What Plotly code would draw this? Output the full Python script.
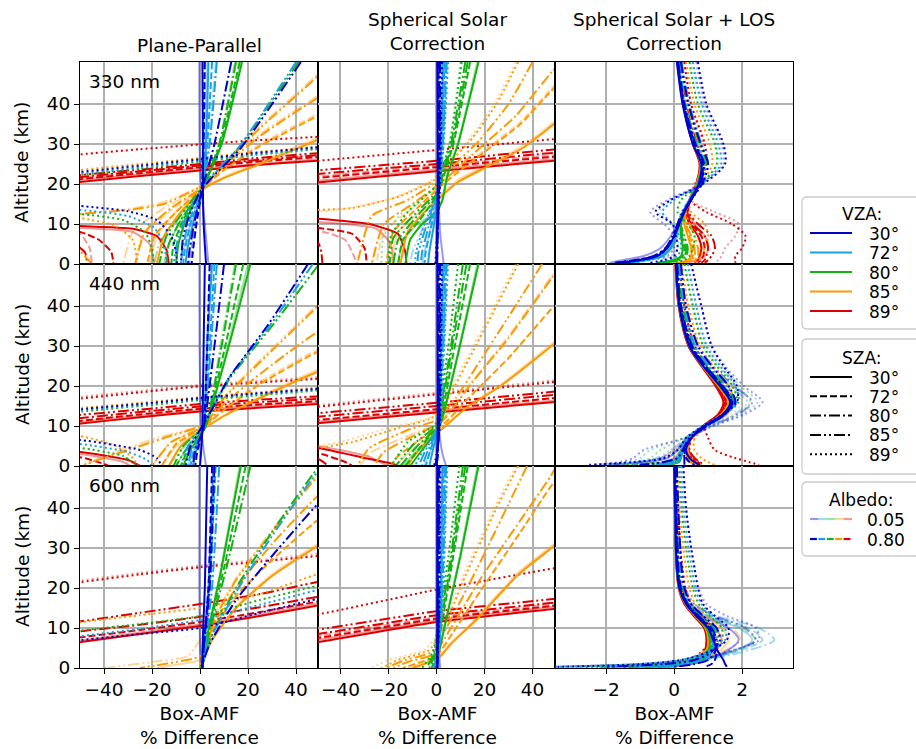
import plotly.graph_objects as go
from plotly.subplots import make_subplots

# ---------------- categories / styles ----------------
VZA = [30, 72, 80, 85, 89]
SZA = [30, 72, 80, 85, 89]
ALBEDO_LABELS = ["0.05", "0.80"]
VZA_RGB = {30: (0, 0, 205), 72: (27, 161, 226), 80: (18, 179, 18), 85: (255, 153, 0), 89: (221, 0, 0)}
SZA_DASH = {30: "solid", 72: "7px,3px", 80: "11px,3px,2px,3px",
            85: "11px,3px,2px,3px,2px,3px", 89: "2px,3px"}
WAVELENGTHS = ["330 nm", "440 nm", "600 nm"]
COL_TITLES = ["Plane-Parallel", "Spherical Solar<br>Correction", "Spherical Solar + LOS<br>Correction"]
X_RANGES = [[-50, 49], [-49.5, 49.5], [-3.5, 3.5]]
X_TICKS = [[-40, -20, 0, 20, 40], [-40, -20, 0, 20, 40], [-2, 0, 2]]
Y_TICKS = [0, 10, 20, 30, 40]
Y_RANGE = [0, 50.5]

# ---------------- data: plane-parallel & spherical-solar panels ----------------
# (VZA, SZA): flat list of [x, altitude, x, altitude, ...]   (albedo 0.80 / 0.05)
PP_330 = {
    (30, 30): [1, 50.5, 1.2, 30, 1.2, 19, 1.5, 10, 2.5, 0],
    (30, 72): [2, 50.5, 1.5, 30, 0.8, 19, -1.5, 10, -3, 3, -3.5, 0],
    (30, 80): [13, 50.5, 6, 30, 1, 19, -2.5, 10, -4.5, 3, -5, 0],
    (30, 85): [42, 50.5, 17, 29, 4, 21, 0, 18, -4, 13, -7, 7, -8, 0],
    (30, 89): [80, 31, 49, 29.2, 20, 27.6, 0, 26.2, -25, 24.6, -50, 23, -80, 21, -80, 15, -50, 14.5, -30, 13.2, -18, 11, -12, 7, -10, 3, -9.5, 0],
    (72, 30): [3.5, 50.5, 2.5, 30, 1, 19, -3, 10, -5.5, 3, -6, 0],
    (72, 72): [5, 50.5, 3, 30, 1, 19, -4, 10, -6.5, 3, -7, 0],
    (72, 80): [7, 50.5, 4, 30, 1, 19, -5, 10, -7.5, 3, -8, 0],
    (72, 85): [40, 50.5, 16, 29, 3.5, 21, 0, 18, -5, 13, -9, 7, -11, 0],
    (72, 89): [80, 30.6, 49, 28.9, 20, 27.3, 0, 25.9, -25, 24.2, -50, 22.6, -80, 20.5, -80, 14, -50, 13.5, -30, 12, -19, 9, -15, 5, -14, 0],
    (80, 30): [17.5, 50.5, 9, 30, 1, 19, -6, 11, -9, 5, -10, 0],
    (80, 72): [16.5, 50.5, 8.5, 30, 1, 19, -7, 11, -11, 5, -12, 0],
    (80, 80): [15, 50.5, 8, 30, 1, 19, -8, 11, -13, 5, -14, 0],
    (80, 85): [41, 50.5, 16, 29, 3, 21, 0, 18.5, -7, 13, -14, 7, -17, 0],
    (80, 89): [80, 30.4, 49, 28.7, 20, 27.1, 0, 25.6, -25, 23.9, -50, 22.2, -80, 20, -80, 13, -50, 12.5, -32, 11, -23, 8, -20, 4, -19.5, 0],
    (85, 30): [70, 36, 49, 31, 25, 25, 10, 21.5, 2, 19, -8, 13, -15, 7, -18, 0],
    (85, 72): [70, 43, 49, 37, 25, 29.5, 10, 23.5, 2, 19.5, -10, 13, -19, 7, -22, 0],
    (85, 80): [70, 48, 49, 41.5, 25, 32, 10, 24.5, 2, 19.5, -12, 14, -23, 8, -27, 0],
    (85, 85): [60, 55, 49, 47, 25, 34, 10, 25, 2, 20, -15, 15, -30, 13.5, -50, 12.5, -70, 11, -70, 5, -50, 3, -45, 0],
    (85, 89): [80, 31, 49, 29.3, 20, 27.8, 0, 26.5, -25, 25, -50, 23.5, -80, 21.5, -80, 12, -50, 11.5, -35, 9.5, -28, 6, -26, 0],
    (89, 30): [80, 27, 49, 25.8, 20, 24.6, 0, 23.4, -25, 22, -50, 20.5, -80, 18.5, -80, 10, -50, 9.5, -28, 8.8, -18, 7, -14, 3.5, -13, 0],
    (89, 72): [80, 28, 49, 26.7, 20, 25.4, 0, 24.2, -25, 22.7, -50, 21.2, -80, 19, -80, 8.5, -50, 8, -42, 6, -37, 3, -36, 0],
    (89, 80): [80, 28.4, 49, 27.2, 20, 25.8, 0, 24.6, -25, 23.2, -50, 21.7, -80, 19.5, -80, 6.5, -55, 6, -48, 3, -47, 0],
    (89, 85): [80, 29, 49, 27.7, 20, 26.3, 0, 25, -25, 23.6, -50, 22.2, -80, 20],
    (89, 89): [80, 33, 49, 31.8, 20, 30.8, 0, 29.9, -25, 28.7, -50, 27.4, -80, 25.5],
}
PP_330_LO = {
    (30, 30): [-0.3, 50.5, -0.2, 30, 0.5, 19, 2, 10, 3.5, 0],
    (30, 72): [1.5, 50.5, 1.2, 30, 0.8, 19, -2, 10, -4.5, 0],
    (72, 30): [3, 50.5, 2, 30, 1, 19, -4, 10, -7, 3, -8, 0],
    (72, 80): [6.5, 50.5, 3.5, 30, 1, 19, -6.5, 10, -10, 3, -11, 0],
    (80, 30): [17, 50.5, 9, 30, 1, 19, -8, 11, -13, 5, -15, 0],
    (80, 80): [14.5, 50.5, 8, 30, 1, 19, -10, 11, -17, 5, -19, 0],
    (85, 30): [70, 36.5, 49, 31.5, 25, 25.5, 10, 21.8, 2, 19, -10, 13, -18, 7, -21, 0],
    (85, 72): [70, 43.5, 49, 37.5, 25, 30, 10, 23.8, 2, 19.5, -13, 13, -24, 7, -27, 0],
    (85, 80): [70, 48.5, 49, 42, 25, 32.5, 10, 24.8, 2, 19.5, -15, 14, -28, 8, -32, 0],
    (85, 85): [60, 55.5, 49, 47.5, 25, 34.5, 10, 25.3, 2, 20, -15, 15.5, -32, 13.5, -50, 12.5, -60, 10, -50, 4, -46, 0],
    (89, 30): [80, 27.4, 49, 26.2, 0, 23.8, -50, 21, -80, 19, -80, 9.5, -50, 9, -28, 8, -21, 5, -19, 0],
    (89, 72): [80, 28.4, 49, 27.1, 0, 24.6, -50, 21.6, -80, 19.5, -80, 8, -50, 7.5, -46, 4, -45, 0],
}

SS_330 = {
    (30, 30): [0.3, 50.5, 0.5, 20, 0.3, 10, 0, 0],
    (30, 72): [0.8, 50.5, 0.8, 20, 0.5, 10, 0.2, 0],
    (30, 80): [1.2, 50.5, 1, 20, 0.6, 10, 0.3, 0],
    (30, 85): [1.6, 50.5, 1.2, 20, 0.5, 10, 0, 0],
    (30, 89): [2.3, 50.5, 1.5, 20, 0.5, 10, -0.5, 0],
    (72, 30): [2.8, 50.5, 2, 30, 1, 19, -1, 10, -3, 3, -3.5, 0],
    (72, 72): [3.3, 50.5, 2.2, 30, 1, 19, -2, 10, -4.5, 3, -5, 0],
    (72, 80): [3.8, 50.5, 2.5, 30, 1, 19, -3, 10, -6, 3, -6.5, 0],
    (72, 85): [4.3, 50.5, 2.7, 30, 1, 19, -4, 10, -7.5, 3, -8, 0],
    (72, 89): [4.8, 50.5, 3, 30, 1, 19, -5, 10, -8.5, 3, -9, 0],
    (80, 30): [17.5, 50.5, 9, 30, 4.5, 22, 2.5, 16, 0, 13, -6, 10, -11, 6, -13, 0],
    (80, 72): [14, 50.5, 7, 30, 2, 20, 0, 17, -7, 11, -14, 6, -16, 0],
    (80, 80): [13, 50.5, 6.5, 30, 1.5, 20, 0, 17.5, -8, 12, -16, 6, -18, 0],
    (80, 85): [12, 50.5, 6, 30, 1, 20, 0, 18, -9, 12.5, -18, 6.5, -19.5, 0],
    (80, 89): [10.5, 50.5, 5.5, 30, 0.5, 20.5, -1, 19, -12, 13, -19, 7, -20, 0],
    (85, 30): [60, 40, 49, 35, 36, 29, 20, 24, 9, 20.5, 3, 17.5, -5, 13, -12, 8, -15, 0],
    (85, 72): [60, 49, 49, 44, 35, 35, 20, 28, 8, 22.5, 1, 19, -8, 14, -18, 8, -21, 0],
    (85, 80): [52, 50.5, 48, 48, 33, 37, 18, 29, 7, 23, 0, 19.5, -10, 15, -22, 10, -27, 0],
    (85, 85): [40, 50.5, 30, 40, 18, 31, 7, 24.5, 0, 20.5, -12, 16, -27, 12, -33, 0],
    (85, 89): [34, 50.5, 25, 40, 15, 31.5, 5, 25, -1, 21, -15, 17, -35, 14, -50, 13.5, -70, 13],
    (89, 30): [80, 27, 49, 25.8, 0, 23.2, -49.5, 20.4, -80, 18.5, -80, 11.5, -49.5, 11.3, -28, 10, -16, 7.5, -13, 3, -12.5, 0],
    (89, 72): [80, 28, 49, 26.8, 0, 24.2, -49.5, 21.5, -80, 19.5, -80, 9.5, -49.5, 9, -35, 7.5, -30, 4, -29, 0],
    (89, 80): [80, 28.8, 49, 27.8, 0, 25, -49.5, 22.5, -80, 20.5, -80, 6, -49.5, 5.5, -48, 3, -47.5, 0],
    (89, 85): [80, 29.6, 49, 28.6, 0, 25.8, -49.5, 23.4, -80, 21.5],
    (89, 89): [80, 32.2, 49, 31.2, 0, 28.5, -49.5, 25.8, -80, 24],
}
SS_330_LO = {
    (30, 30): [0.8, 50.5, 0.8, 20, 1.5, 8, 3, 0],
    (72, 30): [2.5, 50.5, 1.8, 30, 1, 19, -2, 10, -5, 3, -6, 0],
    (72, 85): [4, 50.5, 2.5, 30, 1, 19, -5, 10, -10, 3, -11, 0],
    (80, 30): [17, 50.5, 8.8, 30, 4.3, 22, 2.3, 16, 0, 13, -8, 10, -14, 6, -16, 0],
    (80, 89): [10, 50.5, 5.3, 30, 0.5, 20.5, -1, 19, -14, 13, -22, 7, -23, 0],
    (85, 30): [60, 40.5, 49, 35.5, 36, 29.5, 20, 24.5, 9, 21, 3, 18, -7, 13, -16, 8, -19, 0],
    (85, 72): [60, 49.5, 49, 44.5, 35, 35.5, 20, 28.5, 8, 23, 1, 19.5, -10, 14, -22, 8, -25, 0],
    (85, 89): [33, 50.5, 24, 40, 14, 31.5, 4, 25, -2, 21, -18, 16.5, -38, 13.8, -50, 13, -70, 12],
    (89, 30): [80, 27.4, 49, 26.2, 0, 23.6, -49.5, 20.8, -80, 19, -80, 10.8, -49.5, 10.5, -25, 8.8, -19, 5, -18, 0],
    (89, 72): [80, 28.4, 49, 27.2, 0, 24.6, -49.5, 21.9, -80, 20, -80, 8.8, -49.5, 8.4, -38, 6, -33, 0],
}

PP_440 = {
    (30, 30): [2, 50.5, 1.5, 30, 1, 9.5, 0.5, 4, 0, 0],
    (30, 72): [4, 50.5, 3, 30, 1.5, 9.5, -1, 4, -2, 0],
    (30, 80): [10, 50.5, 6, 30, 1.5, 9.5, -2, 4, -3, 0],
    (30, 85): [45, 50.5, 28, 35, 12, 22, 3, 12, 0, 9, -4, 5, -6, 0],
    (30, 89): [80, 21, 49, 19.3, 20, 18, 0, 17, -25, 15.5, -49.5, 14.2, -80, 12, -80, 6.5, -50, 6.5, -25, 4, -18, 2, -16, 0],
    (72, 30): [5, 50.5, 3, 30, 1.5, 9.5, -1.5, 4, -3, 0],
    (72, 72): [6, 50.5, 4, 30, 1.5, 9.5, -2.5, 4, -4, 0],
    (72, 80): [7, 50.5, 4.5, 30, 1.5, 9.5, -3.5, 4, -5, 0],
    (72, 85): [47, 50.5, 29, 35, 12, 22, 3, 12, 0, 9, -5, 5, -8, 0],
    (72, 89): [80, 20.8, 49, 19.1, 20, 17.8, 0, 16.8, -25, 15.3, -49.5, 14, -80, 12, -80, 5.5, -50, 5.5, -30, 3.5, -22, 1.5, -20, 0],
    (80, 30): [21, 50.5, 12, 30, 2, 9.5, -4, 4, -7, 0],
    (80, 72): [18, 50.5, 10.5, 30, 2, 9.5, -5, 4, -8, 0],
    (80, 80): [15, 50.5, 9, 30, 2, 9.5, -6, 4, -10, 0],
    (80, 85): [49, 50, 30, 35, 12.5, 22, 3, 12, 0, 9, -7, 5, -11, 0],
    (80, 89): [80, 20.6, 49, 18.9, 20, 17.5, 0, 16.5, -25, 15, -49.5, 13.6, -80, 11.5, -80, 4.5, -50, 4.5, -32, 2.5, -26, 0],
    (85, 30): [70, 27, 49, 23.5, 25, 17, 10, 12.5, 2, 9.5, -8, 5, -13, 0],
    (85, 72): [70, 32, 49, 28.5, 25, 20.5, 10, 14, 2, 10, -10, 5.5, -16, 0],
    (85, 80): [70, 38, 49, 33.5, 25, 23, 10, 15.5, 2, 10, -12, 6, -20, 0],
    (85, 85): [60, 48, 49, 40, 25, 26, 10, 17, 2, 10.5, -15, 7, -30, 4, -45, 1, -49.5, 0],
    (85, 89): [80, 21.2, 49, 19.6, 20, 18.2, 0, 17.2, -25, 15.8, -49.5, 14.5, -80, 12.5, -80, 7.5, -50, 7.5, -35, 5, -28, 2, -26, 0],
    (89, 30): [80, 16.5, 49, 15.5, 20, 14.4, 0, 13.6, -25, 12.2, -49.5, 10.6, -80, 8.5, -80, 4, -50, 3.5, -30, 1.5, -25, 0],
    (89, 72): [80, 17.2, 49, 16.2, 20, 15.2, 0, 14.3, -25, 12.9, -49.5, 11.3, -80, 9, -80, 2.5, -50, 2.2, -40, 0.5, -38, 0],
    (89, 80): [80, 17.8, 49, 16.8, 20, 15.8, 0, 14.9, -25, 13.5, -49.5, 12, -80, 10],
    (89, 85): [80, 18.5, 49, 17.4, 20, 16.4, 0, 15.5, -25, 14.1, -49.5, 12.8, -80, 10.8],
    (89, 89): [80, 23, 49, 21.8, 20, 20.7, 0, 19.9, -25, 18.4, -49.5, 16.9, -80, 15],
}
PP_440_LO = {
    (30, 30): [-0.3, 50.5, -0.2, 30, 0.5, 9.5, 1.5, 4, 2.5, 0],
    (72, 30): [4.5, 50.5, 2.8, 30, 1.5, 9.5, -2.5, 4, -5, 0],
    (80, 30): [20, 50.5, 11.5, 30, 2, 9.5, -6, 4, -10, 0],
    (80, 80): [14.5, 50.5, 8.5, 30, 2, 9.5, -8, 4, -13, 0],
    (85, 30): [70, 27.5, 49, 24, 25, 17.3, 10, 12.7, 2, 9.5, -10, 5, -16, 0],
    (85, 72): [70, 32.5, 49, 29, 25, 21, 10, 14.3, 2, 10, -13, 5.5, -20, 0],
    (85, 85): [60, 48.5, 49, 40.5, 25, 26.5, 10, 17.2, 2, 10.5, -18, 7, -35, 3.5, -48, 0.5],
    (89, 30): [80, 16.9, 49, 15.9, 0, 14, -49.5, 11, -80, 9, -80, 3.5, -50, 3, -32, 1, -29, 0],
    (89, 89): [80, 23.4, 49, 22.2, 0, 20.3, -49.5, 17.3, -80, 15.5],
}

SS_440 = {
    (30, 30): [0.3, 50.5, 0.5, 10, 0.3, 3, 0, 0],
    (30, 72): [0.8, 50.5, 0.8, 10, 0.5, 3, 0.2, 0],
    (30, 80): [1.2, 50.5, 1, 10, 0.5, 3, 0, 0],
    (30, 85): [1.6, 50.5, 1.2, 10, 0.3, 3, -0.5, 0],
    (30, 89): [2.2, 50.5, 1.4, 10, 0, 3, -1, 0],
    (72, 30): [2.8, 50.5, 1.8, 25, 1, 10, -1.5, 4, -3, 0],
    (72, 72): [3.3, 50.5, 2, 25, 1, 10, -2.5, 4, -4.5, 0],
    (72, 80): [3.8, 50.5, 2.3, 25, 1, 10, -3.5, 4, -6, 0],
    (72, 85): [4.3, 50.5, 2.5, 25, 1, 10, -4.5, 4, -7.5, 0],
    (72, 89): [4.8, 50.5, 2.8, 25, 1, 10, -5.5, 4, -9, 0],
    (80, 30): [17.5, 50.5, 9, 28, 2.5, 12, 0.5, 9, -6, 4, -11, 0],
    (80, 72): [14, 50.5, 7, 28, 1.5, 11, 0, 9.5, -7, 4.5, -13, 0],
    (80, 80): [12.5, 50.5, 6, 28, 1, 11, 0, 9.5, -8, 5, -15, 0],
    (80, 85): [11, 50.5, 5.5, 28, 0.5, 11, -0.5, 9.8, -9.5, 5.5, -17, 0],
    (80, 89): [9, 50.5, 4.5, 28, 0, 11, -1, 10, -12, 6, -19, 0],
    (85, 30): [60, 36, 49, 30.5, 26, 19.7, 13, 14.8, 3.4, 9.8, -4, 6, -10, 2, -12, 0],
    (85, 72): [60, 46, 49, 40, 30, 27, 15, 18, 3, 10.5, -6, 7, -16, 2.5, -19, 0],
    (85, 80): [52, 50.5, 48, 47, 30, 32, 15, 21, 2, 11, -8, 8, -22, 3.5, -26, 0],
    (85, 85): [44, 50.5, 35, 42, 20, 28, 8, 17, 0, 11.5, -12, 9, -28, 4.5, -33, 0],
    (85, 89): [34, 50.5, 25, 40, 12, 25, 3, 15, -2, 12, -16, 9.5, -35, 6, -49.5, 4.5, -70, 3],
    (89, 30): [80, 17.5, 49.5, 16, 0, 13.4, -49.5, 10.7, -80, 9, -80, 4.8, -49.5, 4.5, -30, 2, -18, 0.5, -16, 0],
    (89, 72): [80, 18.5, 49.5, 17, 0, 14.2, -49.5, 11.5, -80, 10, -80, 3.5, -49.5, 3.2, -38, 1, -35, 0],
    (89, 80): [80, 19.3, 49.5, 17.8, 0, 15, -49.5, 12.3, -80, 10.5, -80, 2, -49.5, 1.8, -45, 0],
    (89, 85): [80, 20, 49.5, 18.6, 0, 15.8, -49.5, 13.2, -80, 11.5],
    (89, 89): [80, 22.5, 49.5, 21, 0, 17.9, -49.5, 14.8, -80, 13],
}
SS_440_LO = {
    (30, 30): [0.8, 50.5, 1, 10, 2.5, 3, 4, 0],
    (72, 30): [2.5, 50.5, 1.6, 25, 1, 10, -2.5, 4, -5, 0],
    (80, 30): [17, 50.5, 8.8, 28, 2.3, 12, 0.3, 9, -8, 4, -14, 0],
    (85, 30): [60, 36.5, 49, 31, 26, 20, 13, 15, 3.4, 10, -6, 6, -14, 2, -17, 0],
    (85, 80): [52, 51, 48, 47.5, 30, 32.5, 15, 21.3, 2, 11.2, -10, 8, -27, 3.5, -32, 0],
    (85, 89): [33, 50.5, 24, 40, 11, 25, 2, 15, -3, 12, -20, 9.5, -40, 6, -49.5, 5, -70, 3.5],
    (89, 30): [80, 17.9, 49.5, 16.4, 0, 13.8, -49.5, 11.1, -80, 9.5, -80, 5.3, -49.5, 5, -28, 2.3, -22, 0.5, -20, 0],
    (89, 89): [80, 22.9, 49.5, 21.4, 0, 18.3, -49.5, 15.2, -80, 13.5],
}

PP_600 = {
    (30, 30): [3, 50.5, 2, 20, 1, 5, 1, 0],
    (30, 72): [5, 50.5, 3.5, 20, 1.5, 5, 1, 0],
    (30, 80): [6, 50.5, 4, 20, 1.5, 5, 1, 0],
    (30, 85): [60, 47, 49, 41, 30, 28, 15, 17, 4, 6, 1, 1, 0, 0],
    (30, 89): [80, 22, 49, 17.3, 25, 13.8, 0, 10, -25, 8.5, -49.5, 7, -80, 5],
    (72, 30): [5.5, 50.5, 3.5, 20, 1.5, 5, 1, 0],
    (72, 72): [6.5, 50.5, 4, 20, 1.5, 5, 1, 0],
    (72, 80): [8, 50.5, 5, 20, 2, 5, 1, 0],
    (72, 85): [60, 55, 49, 49, 30, 33, 15, 19, 4, 7, 1, 1, 0, 0],
    (72, 89): [80, 24, 49, 19.5, 25, 15.8, 0, 12, -25, 9.8, -49.5, 8, -80, 6],
    (80, 30): [17, 50.5, 9, 25, 3, 8, 1, 1, 0.5, 0],
    (80, 72): [19, 50.5, 10, 25, 3, 8, 1, 1, 0.5, 0],
    (80, 80): [21, 50.5, 11, 25, 3.5, 8, 1, 1, 0.5, 0],
    (80, 85): [60, 57, 49, 50, 30, 34, 15, 20, 4, 7, 1, 1, 0, 0],
    (80, 89): [80, 25, 49, 20.6, 25, 17, 0, 13, -25, 11, -49.5, 9.4, -80, 7],
    (85, 30): [70, 38, 49, 30.5, 30, 23, 15, 15, 5, 7, 1, 1.5, 0, 0],
    (85, 72): [70, 46, 49, 37, 30, 27, 15, 18, 5, 9, 1, 2, 0, 0],
    (85, 80): [70, 52, 49, 43, 30, 31, 15, 20, 5, 10, 1, 2, 0, 0],
    (85, 85): [60, 55, 49, 48, 30, 34, 15, 22, 5, 11, 0, 3, -10, 1.5, -20, 0.5, -25, 0],
    (85, 89): [80, 29, 49, 23.5, 25, 18.5, 0, 15, -25, 13.2, -49.5, 11.5, -80, 9],
    (89, 30): [80, 18.5, 49, 15.6, 25, 13, 0, 10.5, -25, 8.5, -49.5, 6.5, -80, 4.5],
    (89, 72): [80, 19.5, 49, 16.6, 25, 14, 0, 11.5, -25, 9.5, -49.5, 7.7, -80, 5.5],
    (89, 80): [80, 20.5, 49, 17.8, 25, 15.2, 0, 12.8, -25, 10.8, -49.5, 9.2, -80, 7],
    (89, 85): [80, 24.5, 49, 21.5, 25, 18.5, 0, 16, -25, 13.8, -49.5, 11.7, -80, 9.5],
    (89, 89): [80, 29.5, 49, 28, 25, 26.6, 0, 25.2, -25, 23.4, -49.5, 21.5, -80, 19.5],
}
PP_600_LO = {
    (30, 30): [-0.3, 50.5, -0.3, 20, 0, 5, 0.5, 0],
    (72, 72): [6, 50.5, 3.8, 20, 1.5, 5, 1, 0],
    (80, 30): [16.5, 50.5, 8.8, 25, 3, 8, 1, 1, 0.5, 0],
    (85, 30): [70, 38.5, 49, 31, 30, 23.4, 15, 15.3, 5, 7.2, 0, 2, -10, 0.8, -18, 0],
    (85, 85): [60, 55.5, 49, 48.5, 30, 34.5, 15, 22.4, 4, 11, -5, 3, -20, 1.5, -33, 0.5, -40, 0],
    (89, 30): [80, 19, 49, 16.1, 25, 13.4, 0, 10.9, -25, 8.9, -49.5, 6.9, -80, 5],
    (89, 89): [80, 30, 49, 28.5, 25, 27, 0, 25.6, -25, 23.8, -49.5, 21.9, -80, 20],
}

SS_600 = {
    (30, 30): [0.3, 50.5, 0.3, 10, 0.3, 0],
    (30, 72): [0.6, 50.5, 0.5, 10, 0.3, 0],
    (30, 80): [0.9, 50.5, 0.7, 10, 0.3, 0],
    (30, 85): [1.2, 50.5, 0.9, 10, 0.2, 0],
    (30, 89): [1.6, 50.5, 1.1, 10, 0, 0],
    (72, 30): [2.5, 50.5, 1.8, 20, 1, 5, 0.5, 0],
    (72, 72): [3, 50.5, 2, 20, 1, 5, 0, 0],
    (72, 80): [3.5, 50.5, 2.2, 20, 1, 5, -0.5, 0],
    (72, 85): [4, 50.5, 2.5, 20, 1, 5, -1, 0],
    (72, 89): [4.5, 50.5, 2.8, 20, 1, 5, -1.5, 0],
    (80, 30): [17.5, 50.5, 10, 28, 4, 12, 1, 4, -1, 0],
    (80, 72): [13, 50.5, 7, 28, 2.5, 12, 0, 4, -2, 0],
    (80, 80): [12, 50.5, 6.5, 28, 2, 12, -0.5, 4, -3, 0],
    (80, 85): [11, 50.5, 6, 28, 1.5, 12, -1, 4, -4, 0],
    (80, 89): [9.5, 50.5, 5, 28, 1, 12, -1.5, 4, -6, 0],
    (85, 30): [60, 36, 49, 30.5, 34, 23.3, 16, 11.7, 6, 6, 1, 2.5, -5, 1, -10, 0],
    (85, 72): [60, 53, 49, 46.5, 35, 34, 18, 19, 7, 9, 0, 3, -8, 1.2, -14, 0],
    (85, 80): [50, 50.5, 47.6, 48, 35, 37, 18, 22, 6, 10, -1, 3.5, -12, 1.5, -18, 0],
    (85, 85): [37.7, 50.5, 30, 41, 17, 25, 5, 11, -2, 4, -14, 1.8, -21, 0],
    (85, 89): [34, 50.5, 25, 40, 12, 23, 3, 10, -3, 4.5, -16, 2, -23, 0],
    (89, 30): [80, 17, 49.5, 14.8, 0, 11.5, -49.5, 6.5, -80, 4.5],
    (89, 72): [80, 17.8, 49.5, 15.6, 0, 12.3, -49.5, 7.5, -80, 5.5],
    (89, 80): [80, 18.6, 49.5, 16.4, 0, 13.2, -49.5, 8.5, -80, 6.5],
    (89, 85): [80, 19.5, 49.5, 17.3, 0, 14.2, -49.5, 9.6, -80, 7.5],
    (89, 89): [80, 28, 49.5, 25, 0, 19.6, -49.5, 13.4, -80, 11],
}
SS_600_LO = {
    (30, 30): [0.5, 50.5, 0.6, 10, 1.5, 0],
    (72, 30): [2.3, 50.5, 1.7, 20, 1, 5, 0.8, 0],
    (80, 30): [17, 50.5, 9.7, 28, 3.8, 12, 1, 4, -1.5, 0],
    (85, 30): [60, 36.5, 49, 31, 34, 23.8, 16, 12.1, 6, 6.3, 1, 2.8, -6, 1.2, -12, 0],
    (85, 89): [33, 50.5, 24, 40, 11, 23, 2, 10, -5, 4.5, -20, 2, -27, 0],
    (89, 30): [80, 17.5, 49.5, 15.3, 0, 11.9, -49.5, 7, -80, 5],
    (89, 72): [80, 18.3, 49.5, 16.1, 0, 12.7, -49.5, 8, -80, 6],
}

# ---------------- data: spherical solar + LOS panels ----------------
# altitude levels (km) at which the LOS-panel values were read
Z_LOS = [50.5, 40, 30, 25, 20, 16, 13, 10, 7, 4, 2, 1, 0.3]
LOS_330 = {
    (30, 30): [0.08, 0.25, 0.55, 0.8, 0.72, 0.47, 0.28, 0.15, 0.0, -0.2, -0.5, -1.0, -1.6],
    (30, 72): [0.1, 0.28, 0.6, 0.85, 0.75, 0.5, 0.3, 0.15, 0.0, -0.22, -0.55, -1.1, -1.7],
    (30, 80): [0.12, 0.3, 0.63, 0.88, 0.77, 0.5, 0.3, 0.14, -0.02, -0.25, -0.6, -1.15, -1.75],
    (30, 85): [0.2, 0.42, 0.78, 1.0, 0.82, 0.5, 0.25, 0.1, -0.05, -0.25, -0.55, -1.0, -1.5],
    (30, 89): [0.7, 0.95, 1.45, 1.5, 0.85, -0.1, -0.55, -0.05, 0.05, 0.1, 0.0, -0.3, -0.7],
    (72, 30): [0.1, 0.27, 0.57, 0.82, 0.7, 0.45, 0.27, 0.15, 0.05, -0.1, -0.35, -0.8, -1.3],
    (72, 72): [0.12, 0.3, 0.62, 0.86, 0.72, 0.46, 0.27, 0.15, 0.05, -0.1, -0.4, -0.9, -1.4],
    (72, 80): [0.15, 0.33, 0.66, 0.9, 0.74, 0.46, 0.26, 0.13, 0.03, -0.12, -0.4, -0.9, -1.4],
    (72, 85): [0.22, 0.45, 0.8, 1.0, 0.78, 0.45, 0.22, 0.1, 0.03, -0.1, -0.35, -0.8, -1.2],
    (72, 89): [0.55, 0.82, 1.3, 1.38, 0.8, 0.0, -0.35, -0.05, 0.15, 0.2, 0.1, -0.2, -0.5],
    (80, 30): [0.1, 0.27, 0.57, 0.8, 0.68, 0.45, 0.3, 0.2, 0.2, 0.25, 0.2, 0.0, -0.5],
    (80, 72): [0.12, 0.3, 0.6, 0.83, 0.7, 0.46, 0.3, 0.2, 0.22, 0.3, 0.25, 0.05, -0.5],
    (80, 80): [0.14, 0.32, 0.64, 0.86, 0.72, 0.46, 0.3, 0.2, 0.25, 0.35, 0.3, 0.1, -0.4],
    (80, 85): [0.2, 0.42, 0.75, 0.95, 0.75, 0.45, 0.28, 0.2, 0.3, 0.4, 0.35, 0.15, -0.3],
    (80, 89): [0.45, 0.7, 1.2, 1.25, 0.8, 0.2, 0.1, 0.4, 0.6, 0.55, 0.45, 0.3, 0.0],
    (85, 30): [0.1, 0.27, 0.56, 0.78, 0.66, 0.45, 0.32, 0.3, 0.4, 0.5, 0.5, 0.4, 0.1],
    (85, 72): [0.12, 0.3, 0.6, 0.82, 0.68, 0.46, 0.32, 0.32, 0.45, 0.55, 0.55, 0.45, 0.1],
    (85, 80): [0.14, 0.32, 0.63, 0.85, 0.7, 0.46, 0.33, 0.35, 0.5, 0.6, 0.6, 0.5, 0.2],
    (85, 85): [0.2, 0.4, 0.72, 0.92, 0.72, 0.45, 0.35, 0.45, 0.6, 0.7, 0.7, 0.6, 0.3],
    (85, 89): [0.35, 0.6, 1.05, 1.12, 0.8, 0.45, 0.5, 0.9, 1.0, 0.9, 0.8, 0.7, 0.5],
    (89, 30): [0.1, 0.26, 0.55, 0.75, 0.65, 0.45, 0.35, 0.45, 0.7, 0.8, 0.75, 0.7, 0.6],
    (89, 72): [0.12, 0.28, 0.58, 0.78, 0.66, 0.46, 0.36, 0.5, 0.8, 0.9, 0.85, 0.8, 0.7],
    (89, 80): [0.13, 0.3, 0.6, 0.8, 0.67, 0.47, 0.38, 0.55, 0.9, 1.0, 0.95, 0.9, 0.8],
    (89, 85): [0.18, 0.37, 0.68, 0.86, 0.7, 0.48, 0.42, 0.7, 1.1, 1.2, 1.1, 1.0, 0.9],
    (89, 89): [0.3, 0.5, 0.9, 0.95, 0.65, 0.48, 0.95, 1.7, 2.1, 2.0, 1.8, 1.8, 1.8],
}
LOS_330_LO = {
    (30, 30): [0.08, 0.25, 0.55, 0.78, 0.7, 0.45, 0.25, 0.1, -0.1, -0.4, -0.9, -1.5, -1.9],
    (30, 89): [0.65, 0.9, 1.4, 1.45, 0.8, -0.2, -0.7, -0.3, 0.0, 0.0, -0.2, -0.8, -1.5],
    (72, 89): [0.5, 0.8, 1.25, 1.3, 0.75, -0.1, -0.45, -0.1, 0.1, 0.1, -0.1, -0.6, -1.2],
    (80, 30): [0.1, 0.27, 0.56, 0.78, 0.67, 0.45, 0.3, 0.2, 0.1, -0.05, -0.3, -0.9, -1.6],
    (85, 85): [0.2, 0.4, 0.72, 0.92, 0.72, 0.45, 0.4, 0.6, 0.8, 0.85, 0.8, 0.6, 0.2],
    (89, 30): [0.1, 0.26, 0.55, 0.75, 0.65, 0.45, 0.4, 0.6, 0.9, 1.0, 0.9, 0.7, 0.3],
    (89, 89): [0.3, 0.5, 0.85, 0.9, 0.6, 0.5, 1.2, 1.9, 1.8, 1.5, 1.4, 1.3, 1.2],
}
LOS_440 = {
    (30, 30): [0.05, 0.15, 0.45, 0.85, 1.35, 1.65, 1.45, 0.9, 0.5, 0.35, 0.45, 0.6, 0.75],
    (30, 72): [0.07, 0.18, 0.5, 0.9, 1.4, 1.7, 1.5, 0.95, 0.5, 0.3, 0.35, 0.45, 0.6],
    (30, 80): [0.09, 0.2, 0.53, 0.93, 1.43, 1.72, 1.5, 0.95, 0.5, 0.3, 0.3, 0.3, 0.3],
    (30, 85): [0.2, 0.35, 0.7, 1.1, 1.6, 1.8, 1.5, 0.9, 0.45, 0.25, 0.1, -0.3, -1.0],
    (30, 89): [0.5, 0.8, 1.1, 1.45, 1.85, 1.85, 1.45, 0.85, 0.35, 0.1, -0.3, -1.2, -2.5],
    (72, 30): [0.05, 0.15, 0.45, 0.85, 1.35, 1.68, 1.47, 0.9, 0.45, 0.25, 0.2, 0.1, -0.3],
    (72, 72): [0.07, 0.18, 0.5, 0.9, 1.4, 1.72, 1.5, 0.92, 0.45, 0.25, 0.15, 0.0, -0.5],
    (72, 80): [0.09, 0.2, 0.53, 0.93, 1.45, 1.75, 1.5, 0.92, 0.45, 0.22, 0.1, -0.1, -0.8],
    (72, 85): [0.15, 0.3, 0.62, 1.02, 1.55, 1.8, 1.5, 0.88, 0.4, 0.2, 0.05, -0.3, -1.2],
    (72, 89): [0.4, 0.65, 0.95, 1.35, 1.8, 1.9, 1.5, 0.85, 0.35, 0.1, -0.2, -1.0, -2.2],
    (80, 30): [0.05, 0.15, 0.45, 0.85, 1.33, 1.65, 1.45, 0.9, 0.45, 0.25, 0.2, 0.15, -0.2],
    (80, 72): [0.07, 0.17, 0.48, 0.88, 1.38, 1.7, 1.48, 0.9, 0.45, 0.25, 0.15, 0.05, -0.4],
    (80, 80): [0.08, 0.19, 0.5, 0.9, 1.4, 1.72, 1.48, 0.9, 0.45, 0.25, 0.15, 0.0, -0.6],
    (80, 85): [0.12, 0.25, 0.56, 0.96, 1.48, 1.76, 1.48, 0.88, 0.42, 0.22, 0.1, -0.2, -1.0],
    (80, 89): [0.3, 0.55, 0.85, 1.25, 1.72, 1.85, 1.45, 0.85, 0.4, 0.2, 0.1, -0.3, -1.5],
    (85, 30): [0.05, 0.15, 0.45, 0.83, 1.3, 1.6, 1.4, 0.9, 0.5, 0.35, 0.4, 0.5, 0.6],
    (85, 72): [0.06, 0.16, 0.47, 0.86, 1.33, 1.63, 1.42, 0.9, 0.5, 0.35, 0.4, 0.5, 0.6],
    (85, 80): [0.07, 0.18, 0.48, 0.88, 1.36, 1.66, 1.43, 0.9, 0.5, 0.35, 0.45, 0.55, 0.7],
    (85, 85): [0.1, 0.22, 0.52, 0.92, 1.42, 1.7, 1.44, 0.9, 0.5, 0.4, 0.5, 0.65, 0.8],
    (85, 89): [0.22, 0.42, 0.75, 1.12, 1.6, 1.75, 1.42, 0.9, 0.6, 0.6, 0.8, 1.0, 1.2],
    (89, 30): [0.04, 0.13, 0.42, 0.8, 1.22, 1.45, 1.3, 0.85, 0.5, 0.4, 0.5, 0.6, 0.7],
    (89, 72): [0.05, 0.14, 0.43, 0.81, 1.24, 1.47, 1.32, 0.86, 0.5, 0.4, 0.5, 0.65, 0.75],
    (89, 80): [0.06, 0.15, 0.44, 0.82, 1.26, 1.49, 1.33, 0.87, 0.5, 0.42, 0.55, 0.7, 0.8],
    (89, 85): [0.08, 0.18, 0.47, 0.85, 1.3, 1.52, 1.35, 0.88, 0.52, 0.45, 0.6, 0.75, 0.9],
    (89, 89): [0.15, 0.3, 0.6, 0.98, 1.4, 1.55, 1.35, 0.9, 1.0, 1.2, 1.8, 2.2, 2.5],
}
LOS_440_LO = {
    (30, 30): [0.05, 0.15, 0.45, 0.85, 1.4, 1.75, 1.55, 0.95, 0.4, 0.1, -0.2, -0.8, -1.8],
    (30, 85): [0.2, 0.35, 0.72, 1.15, 1.75, 2.3, 1.9, 1.1, 0.45, 0.0, -0.4, -1.0, -2.0],
    (30, 89): [0.5, 0.8, 1.12, 1.5, 2.05, 2.6, 2.1, 1.15, 0.3, -0.9, -1.2, -1.6, -2.4],
    (72, 85): [0.15, 0.3, 0.64, 1.05, 1.65, 2.15, 1.8, 1.0, 0.4, -0.1, -0.5, -1.0, -1.8],
    (72, 89): [0.4, 0.65, 0.98, 1.4, 1.95, 2.45, 2.0, 1.1, 0.3, -0.7, -1.0, -1.4, -2.2],
    (80, 89): [0.3, 0.55, 0.88, 1.3, 1.85, 2.25, 1.85, 1.0, 0.3, -0.4, -0.7, -1.1, -1.9],
    (85, 89): [0.22, 0.42, 0.77, 1.15, 1.7, 2.0, 1.7, 1.0, 0.4, -0.1, -0.3, -0.6, -1.2],
    (89, 30): [0.04, 0.13, 0.43, 0.82, 1.28, 1.55, 1.38, 0.88, 0.45, 0.2, 0.0, -0.3, -0.6],
    (89, 89): [0.15, 0.3, 0.6, 1.0, 1.45, 1.6, 1.4, 0.95, 0.6, 0.0, -0.3, -0.6, -1.0],
}
LOS_600 = {
    (30, 30): [0.0, 0.03, 0.05, 0.08, 0.15, 0.35, 0.65, 1.0, 1.15, 1.3, 1.45, 1.5, 1.55],
    (30, 72): [0.02, 0.05, 0.08, 0.1, 0.18, 0.38, 0.7, 1.05, 1.2, 1.25, 1.2, 1.1, 0.9],
    (30, 80): [0.03, 0.06, 0.1, 0.12, 0.2, 0.4, 0.72, 1.1, 1.25, 1.2, 1.0, 0.6, 0.0],
    (30, 85): [0.08, 0.12, 0.18, 0.22, 0.3, 0.5, 0.85, 1.25, 1.35, 1.1, 0.6, -0.3, -2.0],
    (30, 89): [0.27, 0.35, 0.5, 0.6, 0.7, 0.85, 1.2, 1.6, 1.55, 1.0, 0.2, -1.0, -3.5],
    (72, 30): [0.0, 0.03, 0.05, 0.08, 0.15, 0.35, 0.65, 1.0, 1.12, 1.1, 0.9, 0.5, -0.3],
    (72, 72): [0.02, 0.05, 0.08, 0.1, 0.18, 0.38, 0.7, 1.05, 1.15, 1.1, 0.8, 0.3, -0.8],
    (72, 80): [0.03, 0.06, 0.1, 0.13, 0.21, 0.42, 0.75, 1.1, 1.2, 1.05, 0.7, 0.1, -1.2],
    (72, 85): [0.07, 0.1, 0.15, 0.2, 0.28, 0.5, 0.85, 1.2, 1.3, 1.0, 0.5, -0.4, -2.2],
    (72, 89): [0.2, 0.28, 0.42, 0.52, 0.62, 0.8, 1.15, 1.5, 1.5, 1.0, 0.2, -1.0, -3.5],
    (80, 30): [0.0, 0.03, 0.05, 0.08, 0.15, 0.35, 0.65, 0.95, 1.05, 1.0, 0.8, 0.4, -0.5],
    (80, 72): [0.02, 0.05, 0.08, 0.1, 0.17, 0.37, 0.68, 1.0, 1.1, 1.0, 0.75, 0.3, -0.9],
    (80, 80): [0.03, 0.06, 0.09, 0.12, 0.2, 0.4, 0.72, 1.05, 1.15, 1.0, 0.65, 0.1, -1.3],
    (80, 85): [0.05, 0.08, 0.13, 0.17, 0.25, 0.45, 0.8, 1.15, 1.22, 0.95, 0.5, -0.3, -2.2],
    (80, 89): [0.15, 0.22, 0.35, 0.44, 0.55, 0.72, 1.05, 1.4, 1.4, 0.95, 0.3, -0.8, -3.4],
    (85, 30): [0.0, 0.03, 0.05, 0.08, 0.14, 0.33, 0.62, 0.92, 1.0, 0.95, 0.8, 0.5, -0.3],
    (85, 72): [0.01, 0.04, 0.07, 0.09, 0.16, 0.35, 0.65, 0.95, 1.02, 0.95, 0.75, 0.4, -0.6],
    (85, 80): [0.02, 0.05, 0.08, 0.11, 0.18, 0.38, 0.68, 0.98, 1.05, 0.95, 0.7, 0.3, -1.0],
    (85, 85): [0.04, 0.07, 0.11, 0.15, 0.22, 0.42, 0.74, 1.05, 1.1, 0.9, 0.55, 0.0, -1.8],
    (85, 89): [0.1, 0.16, 0.27, 0.35, 0.45, 0.62, 0.95, 1.25, 1.25, 0.85, 0.35, -0.6, -3.0],
    (89, 30): [0.0, 0.02, 0.05, 0.07, 0.13, 0.3, 0.58, 0.88, 0.95, 0.9, 0.8, 0.5, -0.2],
    (89, 72): [0.01, 0.03, 0.06, 0.08, 0.15, 0.32, 0.6, 0.9, 0.97, 0.9, 0.75, 0.4, -0.5],
    (89, 80): [0.02, 0.04, 0.07, 0.1, 0.16, 0.34, 0.62, 0.92, 0.99, 0.9, 0.7, 0.3, -0.9],
    (89, 85): [0.03, 0.06, 0.09, 0.13, 0.19, 0.37, 0.66, 0.96, 1.02, 0.88, 0.6, 0.1, -1.5],
    (89, 89): [0.07, 0.11, 0.18, 0.25, 0.33, 0.5, 0.82, 1.1, 1.1, 0.8, 0.4, -0.4, -2.6],
}
LOS_600_LO = {
    (30, 30): [0.0, 0.03, 0.05, 0.08, 0.16, 0.4, 0.85, 1.6, 1.9, 1.5, 0.8, 0.0, -1.5],
    (30, 85): [0.08, 0.12, 0.18, 0.22, 0.32, 0.6, 1.2, 2.1, 2.4, 1.6, 0.6, -0.5, -2.8],
    (30, 89): [0.27, 0.35, 0.5, 0.6, 0.72, 0.95, 1.55, 2.4, 2.5, 1.5, 0.4, -1.0, -3.5],
    (72, 30): [0.0, 0.03, 0.05, 0.08, 0.17, 0.42, 0.95, 1.9, 2.3, 1.7, 0.8, 0.0, -1.8],
    (72, 72): [0.02, 0.05, 0.08, 0.1, 0.2, 0.48, 1.1, 2.2, 2.6, 1.8, 0.8, -0.1, -2.2],
    (72, 80): [0.03, 0.06, 0.1, 0.13, 0.24, 0.55, 1.25, 2.5, 2.95, 2.0, 0.9, -0.1, -2.4],
    (80, 72): [0.02, 0.05, 0.08, 0.1, 0.19, 0.45, 1.0, 2.0, 2.4, 1.7, 0.7, -0.1, -2.0],
    (85, 30): [0.0, 0.03, 0.05, 0.08, 0.15, 0.38, 0.8, 1.4, 1.6, 1.3, 0.8, 0.2, -1.0],
    (85, 85): [0.04, 0.07, 0.11, 0.15, 0.24, 0.5, 0.95, 1.7, 1.95, 1.4, 0.6, -0.2, -2.0],
    (89, 30): [0.0, 0.02, 0.05, 0.07, 0.14, 0.34, 0.7, 1.2, 1.4, 1.2, 0.8, 0.3, -0.8],
}

PANELS = [
    (1, 1, "xz", PP_330, PP_330_LO), (1, 2, "xz", SS_330, SS_330_LO), (1, 3, "los", LOS_330, LOS_330_LO),
    (2, 1, "xz", PP_440, PP_440_LO), (2, 2, "xz", SS_440, SS_440_LO), (2, 3, "los", LOS_440, LOS_440_LO),
    (3, 1, "xz", PP_600, PP_600_LO), (3, 2, "xz", SS_600, SS_600_LO), (3, 3, "los", LOS_600, LOS_600_LO),
]

FONT = "DejaVu Sans"
FS = 18.5
FS_LEG = 17
W, H = 916, 749
L, R, T, B = 80, 123, 62, 81


def px(x):
    return (x - L) / (W - L - R)


def py(y):
    return (H - B - y) / (H - T - B)


def rgba(v, a):
    r, g, b = VZA_RGB[v]
    return f"rgba({r},{g},{b},{a})"


fig = make_subplots(rows=3, cols=3, horizontal_spacing=0, vertical_spacing=0)

for row, col, kind, hi, lo in PANELS:
    for data, alpha in ((lo, 0.4), (hi, 1.0)):
        for v in [89, 85, 80, 72, 30]:
            for s in SZA:
                if (v, s) not in data:
                    continue
                vals = data[(v, s)]
                if kind == "los":
                    xs, zs = vals, Z_LOS
                    sm = 0.8
                else:
                    xs, zs = vals[0::2], vals[1::2]
                    sm = 0.5
                fig.add_trace(go.Scatter(
                    x=xs, y=zs, mode="lines",
                    line=dict(color=rgba(v, alpha), width=2, dash=SZA_DASH[s],
                              shape="spline", smoothing=sm),
                    hoverinfo="skip", showlegend=False), row=row, col=col)

for r in range(1, 4):
    for c in range(1, 4):
        fig.update_xaxes(range=X_RANGES[c - 1], tickvals=X_TICKS[c - 1], automargin=False,
                         showticklabels=(r == 3), ticks="outside" if r == 3 else "",
                         ticklen=5, tickcolor="black",
                         showgrid=True, gridcolor="#b0b0b0", gridwidth=1.6,
                         zeroline=False, showline=True, linecolor="black", linewidth=1.2,
                         mirror=True, tickfont=dict(family=FONT, size=FS, color="black"),
                         row=r, col=c)
        fig.update_yaxes(range=Y_RANGE, tickvals=Y_TICKS, automargin=False,
                         showticklabels=(c == 1), ticks="outside" if c == 1 else "",
                         ticklen=5, tickcolor="black",
                         showgrid=True, gridcolor="#b0b0b0", gridwidth=1.6,
                         zeroline=False, showline=True, linecolor="black", linewidth=1.2,
                         mirror=True, tickfont=dict(family=FONT, size=FS, color="black"),
                         row=r, col=c)

ann = []
col_centers = [199, 437, 674]
title_y = [46, 32, 32]
for i, t in enumerate(COL_TITLES):
    ann.append(dict(x=px(col_centers[i]), y=py(title_y[i]), text=t, showarrow=False,
                    xanchor="center", yanchor="middle"))
    ann.append(dict(x=px(col_centers[i]), y=py(725), text="Box-AMF<br>% Difference",
                    showarrow=False, xanchor="center", yanchor="middle"))
row_tops = [62, 264, 466]
for i, wl in enumerate(WAVELENGTHS):
    ann.append(dict(x=px(87), y=py(row_tops[i] + 19), text=wl, showarrow=False,
                    xanchor="left", yanchor="middle"))
    ann.append(dict(x=px(22), y=py(row_tops[i] + 101), text="Altitude (km)", showarrow=False,
                    textangle=-90, xanchor="center", yanchor="middle"))

shapes = []


def rrect(x0, y0, x1, y1, r=5):
    path = (f"M {px(x0 + r)},{py(y0)} L {px(x1 - r)},{py(y0)} Q {px(x1)},{py(y0)} {px(x1)},{py(y0 + r)} "
            f"L {px(x1)},{py(y1 - r)} Q {px(x1)},{py(y1)} {px(x1 - r)},{py(y1)} "
            f"L {px(x0 + r)},{py(y1)} Q {px(x0)},{py(y1)} {px(x0)},{py(y1 - r)} "
            f"L {px(x0)},{py(y0 + r)} Q {px(x0)},{py(y0)} {px(x0 + r)},{py(y0)} Z")
    return dict(type="path", path=path, xref="paper", yref="paper",
                line=dict(color="#cccccc", width=1.3), fillcolor="white", layer="above")


LX0, LX1, TX, TCX = 810, 852, 867, 862
leg_ann = []
# VZA legend
shapes.append(rrect(802, 197, 935, 329))
leg_ann.append(dict(x=px(TCX), y=py(214), text="VZA:", showarrow=False, xanchor="center", yanchor="middle"))
for i, v in enumerate(VZA):
    yy = 233 + i * 19.5
    shapes.append(dict(type="line", xref="paper", yref="paper", x0=px(LX0), x1=px(LX1),
                       y0=py(yy), y1=py(yy), line=dict(color=rgba(v, 1), width=2), layer="above"))
    leg_ann.append(dict(x=px(TX), y=py(yy), text=f"{v}°", showarrow=False, xanchor="left",
                        yanchor="middle", height=15))
# SZA legend
shapes.append(rrect(802, 339, 935, 474))
leg_ann.append(dict(x=px(TCX), y=py(358), text="SZA:", showarrow=False, xanchor="center", yanchor="middle"))
for i, s in enumerate(SZA):
    yy = 377 + i * 19.3
    shapes.append(dict(type="line", xref="paper", yref="paper", x0=px(LX0), x1=px(LX1),
                       y0=py(yy), y1=py(yy), line=dict(color="black", width=2, dash=SZA_DASH[s]),
                       layer="above"))
    leg_ann.append(dict(x=px(TX), y=py(yy), text=f"{s}°", showarrow=False, xanchor="left",
                        yanchor="middle", height=15))
# Albedo legend
shapes.append(rrect(802, 482, 935, 556))
leg_ann.append(dict(x=px(TCX), y=py(500), text="Albedo:", showarrow=False, xanchor="center", yanchor="middle"))
for i, lab in enumerate(ALBEDO_LABELS):
    yy = 519 + i * 20
    alpha = 0.4 if i == 0 else 1.0
    seg = (LX1 - LX0) / 5
    for k, v in enumerate(VZA):
        shapes.append(dict(type="line", xref="paper", yref="paper",
                           x0=px(LX0 + k * seg), x1=px(LX0 + (k + 1) * seg - (0 if i == 0 else 1.5)),
                           y0=py(yy), y1=py(yy), line=dict(color=rgba(v, alpha), width=2.2),
                           layer="above"))
    leg_ann.append(dict(x=px(TX - 2), y=py(yy), text=lab, showarrow=False, xanchor="left",
                        yanchor="middle", height=15))

for a in ann:
    a["font"] = dict(family=FONT, size=FS, color="black")
for a in leg_ann:
    a["font"] = dict(family=FONT, size=FS_LEG, color="black")
all_ann = ann + leg_ann
for a in all_ann:
    a.setdefault("xref", "paper")
    a.setdefault("yref", "paper")

fig.update_layout(
    width=W, height=H, margin=dict(l=L, r=R, t=T, b=B, autoexpand=False),
    paper_bgcolor="white", plot_bgcolor="white",
    font=dict(family=FONT, size=FS, color="black"),
    annotations=all_ann, shapes=shapes, showlegend=False,
)

fig.write_html("out.html", config={"displayModeBar": False},
               post_script="document.body.style.margin='0';document.body.style.padding='0';")
